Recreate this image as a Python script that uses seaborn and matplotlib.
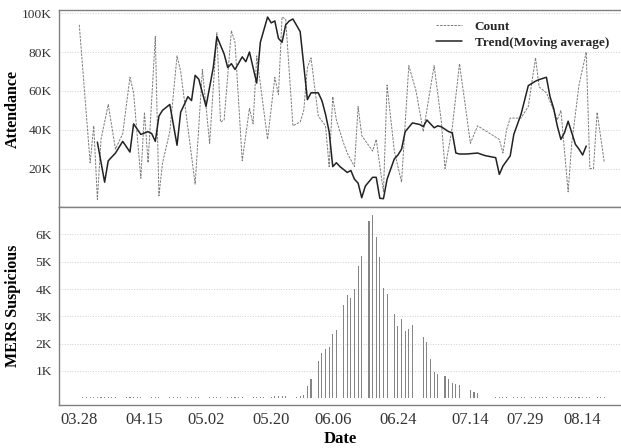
import pandas as pd
import matplotlib
matplotlib.use("Agg")
import matplotlib.pyplot as plt
import seaborn as sns

# day numbers are days since 2015-03-28
start = pd.Timestamp("2015-03-28")

count_day = [0, 3, 4, 5, 6, 8, 10, 12, 14, 15, 17, 18, 19, 21, 22, 23, 25, 27, 28, 32,
             34, 36, 38, 39, 40, 42, 43, 45, 47, 48, 49, 52, 54, 55, 56, 57, 59, 61, 62, 63,
             64, 66, 68, 69, 70, 71, 73, 74, 76, 77, 78, 81, 82, 84, 85, 87, 89, 91, 93, 95,
             98, 100, 101, 103, 105, 107, 108, 110, 116, 117, 118, 119, 122, 124, 126, 127, 129, 131, 132, 133,
             135, 136, 138, 140, 141, 142, 143, 145]
count_k = [94, 23, 42, 4, 35, 53, 30, 38, 67, 59, 15, 49, 23, 88, 6, 23, 39, 78, 70, 12,
           71, 33, 90, 44, 45, 91, 85, 24, 51, 43, 78, 35, 67, 58, 98, 97, 42, 44, 50, 72,
           77, 47, 42, 21, 57, 45, 33, 28, 21, 52, 37, 29, 35, 8, 63, 29, 13, 73, 60, 39,
           73, 44, 20, 41, 74, 47, 33, 42, 35, 28, 40, 46, 46, 52, 77, 62, 59, 50, 45, 50,
           8, 33, 63, 80, 20, 20, 49, 23]

trend_day = [5, 7, 8, 10, 12, 14, 15, 17, 19, 20, 21, 22, 23, 25, 27, 28, 30, 31, 32, 33,
             35, 37, 38, 40, 41, 42, 43, 45, 46, 47, 49, 50, 52, 53, 54, 55, 56, 57, 58, 59,
             61, 63, 64, 66, 67, 68, 69, 70, 71, 72, 74, 75, 76, 77, 78, 79, 81, 82, 83, 84,
             85, 87, 88, 89, 90, 92, 94, 95, 96, 98, 99, 100, 102, 103, 104, 105, 107, 110, 112, 115,
             116, 117, 119, 120, 122, 124, 126, 127, 129, 130, 131, 132, 133, 134, 135, 137, 138, 139, 140]
trend_k = [33.6, 13, 24, 28, 34, 28.5, 43, 37.6, 39, 38, 34, 47, 50, 53, 32, 49, 57, 55, 68, 66,
           52, 72, 88, 79, 72, 74, 71, 77.5, 75, 80, 64, 85, 98, 95, 96, 87, 85, 94, 96, 97,
           90.5, 55.5, 59, 59, 55, 48, 39, 21, 23, 21, 18, 19, 14.5, 12.5, 5, 11, 15.5, 15.5, 4.7, 4.5,
           14.5, 25, 27, 30, 39, 43.5, 42.7, 41.6, 45, 41, 42, 41.5, 39, 38.5, 28, 27.5, 27.5, 28, 26.7, 25.6,
           17, 21.3, 26.5, 37.6, 48, 62.7, 65, 65.8, 67, 57, 51, 42, 35, 38.5, 44.4, 32.5, 30, 27, 31.6]

mers_day = [1, 2, 3, 4, 5, 6, 7, 8, 9, 10, 13, 14, 15, 16, 17, 20, 21, 22, 25, 26,
            27, 28, 30, 31, 32, 33, 36, 37, 38, 39, 41, 42, 43, 44, 45, 48, 49, 50, 51, 53,
            54, 55, 56, 57, 60, 61, 62, 63, 64, 66, 67, 68, 69, 70, 71, 73, 74, 75, 76, 77,
            78, 80, 81, 82, 83, 84, 85, 87, 88, 89, 90, 91, 92, 95, 96, 97, 98, 99, 101, 102,
            103, 104, 105, 108, 109, 110, 115, 116, 117, 118, 120, 121, 122, 123, 125, 126, 127, 128, 129, 131,
            132, 133, 134, 135, 136, 137, 138, 139, 140, 141, 143, 144, 145]
mers_n = [40, 40, 40, 40, 40, 40, 40, 40, 40, 40, 40, 40, 40, 40, 40, 40, 40, 40, 40, 40,
          40, 40, 40, 40, 40, 40, 40, 40, 40, 40, 40, 40, 40, 40, 40, 40, 40, 40, 40, 60,
          70, 70, 70, 70, 50, 90, 130, 450, 720, 1370, 1650, 1800, 1860, 2360, 2500, 3430, 3790, 3670, 4000, 4860,
          5200, 6490, 6730, 5910, 5180, 4040, 3820, 3080, 2630, 2910, 2470, 2540, 2670, 2230, 2050, 1430, 975, 890, 830, 690,
          570, 520, 485, 300, 240, 180, 40, 40, 40, 40, 40, 40, 40, 40, 40, 40, 40, 40, 40, 40,
          40, 40, 40, 40, 40, 40, 40, 40, 40, 40, 40, 40, 40]

tick_dates = ["03.28", "04.03", "04.09", "04.15", "04.21", "04.26", "05.02", "05.08", "05.14",
              "05.20", "05.26", "05.31", "06.06", "06.12", "06.18", "06.24", "07.01", "07.07",
              "07.14", "07.23", "07.29", "08.04", "08.09", "08.14", "08.19"]
label_dates = ["03.28", "04.15", "05.02", "05.20", "06.06", "06.24", "07.14", "07.29", "08.14"]
grid_dates = tick_dates[0:19:2] + ["07.29", "08.09", "08.19"]

att_ticks = [20, 40, 60, 80, 100]
att_labels = ["20K", "40K", "60K", "80K", "100K"]
mers_ticks = [1000, 2000, 3000, 4000, 5000, 6000]
mers_labels = ["1K", "2K", "3K", "4K", "5K", "6K"]


def to_day(s):
    return (pd.to_datetime("2015." + s, format="%Y.%m.%d") - start).days


sns.set_theme(style="white")
plt.rcParams["font.family"] = ["Liberation Serif", "DejaVu Serif"]

fig, (ax1, ax2) = plt.subplots(2, 1, figsize=(6.21, 4.48), dpi=100, sharex=True)
fig.subplots_adjust(left=0.095, right=1.0, top=0.978, bottom=0.096, hspace=0)

sns.lineplot(x=count_day, y=count_k, ax=ax1, color="#7c7c7c", lw=0.7,
             linestyle=(0, (2.5, 1.2)), label="Count")
sns.lineplot(x=trend_day, y=trend_k, ax=ax1, color="#222222", lw=1.1,
             label="Trend(Moving average)")

sns.barplot(x=mers_day, y=mers_n, ax=ax2, native_scale=True, width=0.3,
            color="#858585", saturation=1, errorbar=None, linewidth=0)

gridkw = dict(color="#d0d0d0", linestyle=":", linewidth=0.7)
for ax in (ax1, ax2):
    ax.set_xticks([to_day(d) for d in tick_dates])
    ax.set_xticklabels([d if d in label_dates else "" for d in tick_dates])
    ax.set_xticks([to_day(d) for d in grid_dates], minor=True)
    ax.grid(False)
    ax.grid(True, which="minor", axis="x", **gridkw)
    ax.grid(True, which="major", axis="y", **gridkw)
    ax.tick_params(which="minor", length=0)
    ax.tick_params(axis="both", which="major", length=3, width=0.8, color="#808080",
                   colors="#333333", pad=2)
    for s in ax.spines.values():
        s.set_color("#808080")
        s.set_linewidth(1)
    ax.spines["right"].set_visible(False)

ax1.set_xlim(-5.6, 149.6)
ax1.set_ylim(0, 101.7)
ax1.set_yticks(att_ticks)
ax1.set_yticklabels(att_labels, fontsize=9.7)
ax1.tick_params(axis="x", length=0, labelbottom=False)
ax1.set_ylabel("Attendance", fontsize=11.5, fontweight="bold", color="black")
ax1.yaxis.set_label_coords(-0.068, 0.5)
ax1.set_xlabel("")

ax2.set_ylim(-250, 6990)
ax2.set_yticks(mers_ticks)
ax2.set_yticklabels(mers_labels, fontsize=9.7)
ax2.tick_params(axis="x", labelsize=12)
ax2.set_ylabel("MERS Suspicious", fontsize=11.5, fontweight="bold", color="black")
ax2.yaxis.set_label_coords(-0.068, 0.5)
ax2.set_xlabel("Date", fontsize=12, fontweight="bold", color="black", labelpad=2)

ax1.legend(loc="upper right", bbox_to_anchor=(1.0, 1.005), frameon=False,
           prop={"weight": "bold", "size": 9.5, "family": "Liberation Serif"},
           handlelength=1.9, handletextpad=1.0, labelspacing=0.25)

fig.savefig("out.png", dpi=100)
